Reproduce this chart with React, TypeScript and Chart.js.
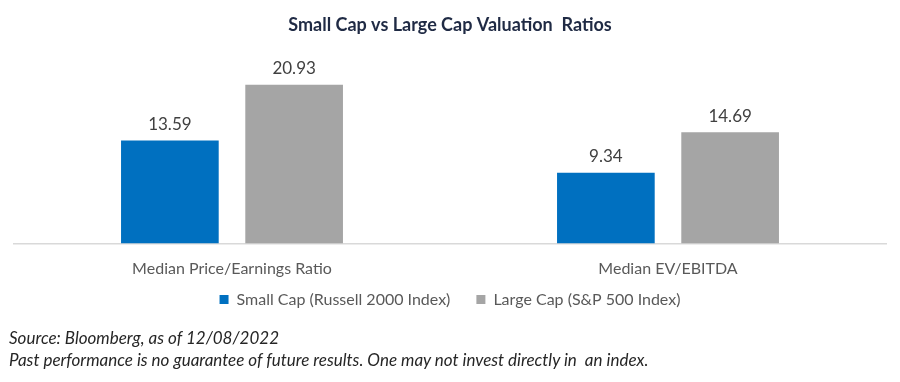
import React, { useEffect, useRef } from "react";
import { Chart, registerables } from "chart.js";

Chart.register(...registerables);

const categories = ["Median Price/Earnings Ratio", "Median EV/EBITDA"];
const smallCapValues = [13.59, 9.34];
const largeCapValues = [20.93, 14.69];
const seriesLabels = ["Small Cap (Russell 2000 Index)", "Large Cap (S&P 500 Index)"];
const titleText = "Small Cap vs Large Cap Valuation  Ratios";
const sourceLines = [
  "Source: Bloomberg, as of 12/08/2022",
  "Past performance is no guarantee of future results. One may not invest directly in  an index.",
];

const FONT = "Lato, 'Open Sans', sans-serif";
const LEGEND_SHIFT = -28;

const dataLabelPlugin = {
  id: "dataLabels",
  afterDatasetsDraw(chart: any) {
    const ctx = chart.ctx;
    ctx.save();
    ctx.font = `17px ${FONT}`;
    ctx.fillStyle = "#404040";
    ctx.textAlign = "center";
    ctx.textBaseline = "middle";
    chart.data.datasets.forEach((ds: any, i: number) => {
      const meta = chart.getDatasetMeta(i);
      meta.data.forEach((bar: any, j: number) => {
        ctx.fillText(Number(ds.data[j]).toFixed(2), bar.x, bar.y - 16);
      });
    });
    ctx.restore();
  },
};

const legendShiftPlugin = {
  id: "legendShift",
  afterLayout(chart: any) {
    const lg = chart.legend;
    if (lg) {
      lg.top += LEGEND_SHIFT;
      lg.bottom += LEGEND_SHIFT;
    }
  },
};

export default function App() {
  const ref = useRef<HTMLCanvasElement | null>(null);

  useEffect(() => {
    if (!ref.current) return;
    const chart = new Chart(ref.current, {
      type: "bar",
      data: {
        labels: categories,
        datasets: [
          {
            label: seriesLabels[0],
            data: smallCapValues,
            backgroundColor: "#0070C0",
            categoryPercentage: 0.57,
            barPercentage: 0.786,
          },
          {
            label: seriesLabels[1],
            data: largeCapValues,
            backgroundColor: "#A5A5A5",
            categoryPercentage: 0.57,
            barPercentage: 0.786,
          },
        ],
      },
      options: {
        responsive: false,
        animation: false,
        layout: { padding: { left: 14, right: 14, top: 0, bottom: 36.4 } },
        scales: {
          x: {
            grid: { display: false, drawTicks: false },
            border: { display: true, color: "#D9D9D9", width: 1.5 },
            ticks: { font: { family: FONT, size: 16 }, color: "#595959", padding: 15.4 },
          },
          y: { display: false, min: 0, max: 25 },
        },
        plugins: {
          title: {
            display: true,
            text: titleText,
            color: "#1F2A44",
            font: { family: FONT, size: 18, weight: "bold" },
            padding: { top: 14.2, bottom: 18.2 },
          },
          legend: {
            position: "bottom",
            labels: {
              boxWidth: 9,
              boxHeight: 9,
              padding: 26,
              color: "#595959",
              font: { family: FONT, size: 16 },
            },
          },
          tooltip: { enabled: false },
        },
      },
      plugins: [dataLabelPlugin, legendShiftPlugin],
    } as any);
    return () => chart.destroy();
  }, []);

  return (
    <div style={{ position: "fixed", left: 0, top: 0, width: 900, height: 382, background: "#fff" }}>
      <canvas ref={ref} width={900} height={382} style={{ position: "absolute", left: 0, top: 0 }} />
      <div
        style={{
          position: "absolute",
          left: 9,
          top: 327,
          fontFamily: FONT,
          fontStyle: "italic",
          fontSize: 17,
          lineHeight: "22px",
          color: "#262626",
          whiteSpace: "pre",
        }}
      >
        {sourceLines.map((l, i) => (
          <div key={i}>{l}</div>
        ))}
      </div>
    </div>
  );
}
